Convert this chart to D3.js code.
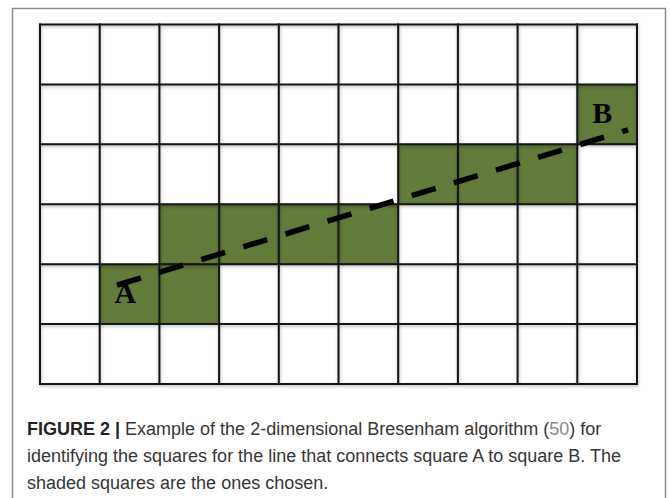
<!DOCTYPE html>
<html><head><meta charset="utf-8">
<script src="https://cdn.jsdelivr.net/npm/d3@7"></script>
<style>html,body{margin:0;padding:0;background:#fff;}svg{display:block;}</style>
</head><body>
<script>
// grid size
const nCols = 10;
const nRows = 6;
// shaded (chosen) squares: column index and row index (row 0 = top)
const shadedCols = [1, 2, 2, 3, 4, 5, 6, 7, 8, 9];
const shadedRows = [4, 4, 3, 3, 3, 3, 2, 2, 2, 1];
// dashed line endpoints in grid units (col, row-from-top)
const lineCols = [1.29, 9.85];
const lineRows = [4.35, 1.76];
// point labels
const labels = ["A", "B"];
const labelCols = [1.43, 9.42];
const labelRows = [4.65, 1.645];
// caption
const captionLines = [
  [{t: "FIGURE 2 | ", b: true}, {t: "Example of the 2-dimensional Bresenham algorithm ("}, {t: "50", c: "#8a8a8a"}, {t: ") for"}],
  [{t: "identifying the squares for the line that connects square A to square B. The"}],
  [{t: "shaded squares are the ones chosen."}]
];

const W = 670, H = 498;
const svg = d3.select("body").append("svg").attr("width", W).attr("height", H);

const defs = svg.append("defs");
const f = defs.append("filter").attr("id", "sh").attr("x", "-5%").attr("y", "-5%").attr("width", "110%").attr("height", "110%");
f.append("feDropShadow").attr("dx", 0.5).attr("dy", 1.5).attr("stdDeviation", 1.6).attr("flood-color", "#000").attr("flood-opacity", 0.3);

// outer frame
svg.append("rect").attr("x", 12.5).attr("y", 8.5).attr("width", 653).attr("height", 520)
  .attr("fill", "none").attr("stroke", "#8c8c8c").attr("stroke-width", 1.5);

const x = d3.scaleLinear().domain([0, nCols]).range([40, 637]);
const y = d3.scaleLinear().domain([0, nRows]).range([24.5, 384]);

// shaded cells
svg.append("g").selectAll("rect").data(d3.range(shadedCols.length)).join("rect")
  .attr("x", i => x(shadedCols[i])).attr("y", i => y(shadedRows[i]))
  .attr("width", x(1) - x(0)).attr("height", y(1) - y(0))
  .attr("fill", "#627a3a");

// grid lines
const g = svg.append("g").attr("filter", "url(#sh)").attr("stroke", "#141414").attr("stroke-width", 2).attr("stroke-linecap", "square");
g.selectAll("line.v").data(d3.range(nCols + 1)).join("line").attr("class", "v")
  .attr("x1", d => x(d)).attr("x2", d => x(d)).attr("y1", y(0)).attr("y2", y(nRows));
g.selectAll("line.h").data(d3.range(nRows + 1)).join("line").attr("class", "h")
  .attr("x1", x(0)).attr("x2", x(nCols)).attr("y1", d => y(d)).attr("y2", d => y(d));

// dashed line
const pts = lineCols.map((c, i) => [x(c), y(lineRows[i])]);
svg.append("path").attr("d", d3.line()(pts))
  .attr("fill", "none").attr("stroke", "#000").attr("stroke-width", 5.5)
  .attr("stroke-dasharray", "25 19");

// labels
svg.append("g").selectAll("text").data(labels).join("text")
  .attr("x", (d, i) => x(labelCols[i])).attr("y", (d, i) => y(labelRows[i]))
  .attr("text-anchor", "middle")
  .attr("font-family", "'Liberation Serif', 'DejaVu Serif', serif")
  .attr("font-weight", "bold").attr("font-size", 30).attr("fill", "#000")
  .text(d => d);

// caption
const cap = svg.append("g").attr("font-family", "'Liberation Sans', Arial, sans-serif").attr("font-size", 18).attr("fill", "#363636");
captionLines.forEach((ln, li) => {
  const t = cap.append("text").attr("x", 27).attr("y", 435 + li * 27);
  ln.forEach(s => {
    t.append("tspan").text(s.t)
      .attr("font-weight", s.b ? "bold" : null)
      .attr("fill", s.c || (s.b ? "#222" : null));
  });
});
</script>
</body></html>
